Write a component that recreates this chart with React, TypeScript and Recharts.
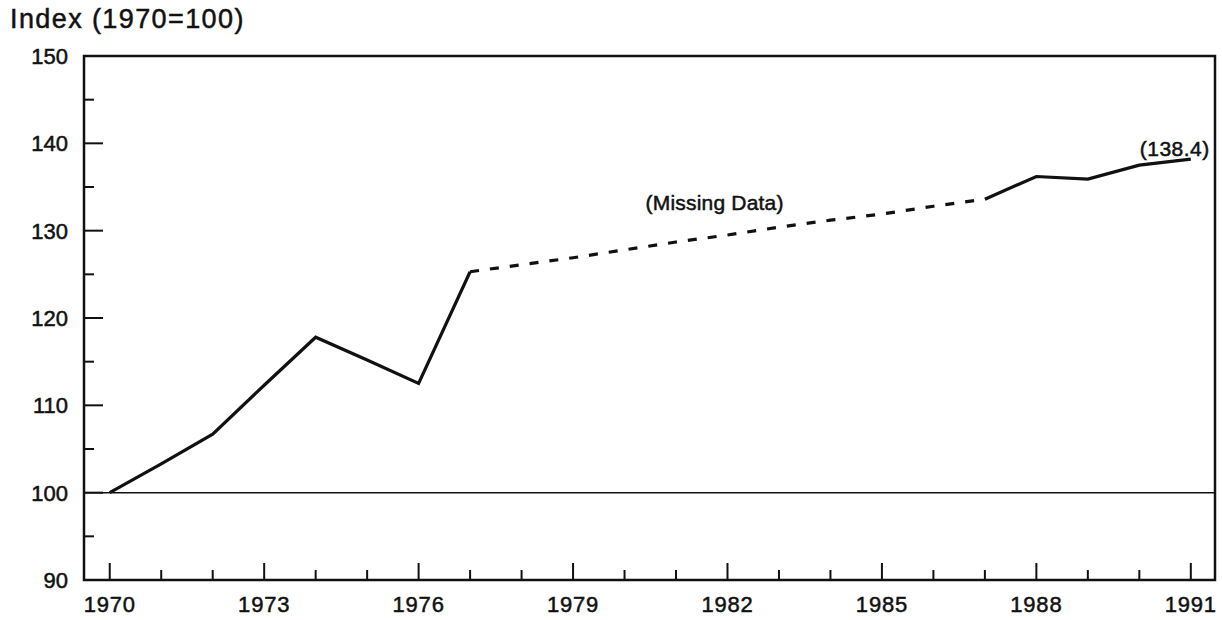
import React from 'react';
import { LineChart, Line, XAxis, YAxis, ReferenceLine, ReferenceArea, ReferenceDot } from 'recharts';

const years = [1970, 1971, 1972, 1973, 1974, 1975, 1976, 1977, 1978, 1979, 1980, 1981, 1982, 1983, 1984, 1985, 1986, 1987, 1988, 1989, 1990, 1991];
const indexValues = [100, 103.3, 106.7, 112.3, 117.8, 115.2, 112.5, 125.3, 126.1, 126.9, 127.8, 128.7, 129.5, 130.4, 131.2, 131.9, 132.8, 133.6, 136.2, 135.9, 137.5, 138.2];
const missingStart = 1977;
const missingEnd = 1987;
const yTicks = [90, 95, 100, 105, 110, 115, 120, 125, 130, 135, 140, 145, 150];
const yMajorStep = 10;
const xMajorStep = 3;
const titleText = 'Index (1970=100)';
const missingLabel = '(Missing Data)';
const missingLabelPos = { year: 1981.75, value: 132.4 };
const lastLabel = '(138.4)';

const X_MIN = 1969.5;
const X_MAX = 1991.47;
const FONT = '"Liberation Sans", Arial, Helvetica, sans-serif';
const INK = '#111';

const data = years.map((year, i) => {
  const v = indexValues[i];
  return {
    year,
    solid: year <= missingStart || year >= missingEnd ? v : null,
    dashed: year >= missingStart && year <= missingEnd ? v : null,
  };
});

const textStyle = { stroke: INK, strokeWidth: 0.5 };

const YTick = (props: any) => {
  const { x, y, payload } = props;
  const v = payload.value;
  const major = v % yMajorStep === 0;
  return (
    <g>
      <line x1={x} x2={x + (major ? 19 : 10)} y1={y} y2={y} stroke={INK} strokeWidth={2} />
      {major && (
        <text x={x - 16} y={y} dy="0.36em" textAnchor="end" fontFamily={FONT} fontSize={22} fill={INK} style={textStyle}>
          {v}
        </text>
      )}
    </g>
  );
};

const XTick = (props: any) => {
  const { x, y, payload } = props;
  const v = payload.value;
  const major = (v - years[0]) % xMajorStep === 0;
  return (
    <g>
      <line x1={x} x2={x} y1={y} y2={y - (major ? 17 : 10)} stroke={INK} strokeWidth={2} />
      {major && (
        <text x={x} y={y + 32} textAnchor="middle" fontFamily={FONT} fontSize={22} letterSpacing={0.8} fill={INK} style={textStyle}>
          {v}
        </text>
      )}
    </g>
  );
};

const MissingLabel = (props: any) => {
  const { viewBox } = props;
  return (
    <text x={viewBox.x} y={viewBox.y} textAnchor="middle" fontFamily={FONT} fontSize={21} letterSpacing={0.2} fill={INK} style={textStyle}>
      {missingLabel}
    </text>
  );
};

const LastLabel = (props: any) => {
  const { viewBox } = props;
  return (
    <text x={viewBox.x + 19} y={viewBox.y - 3} textAnchor="end" fontFamily={FONT} fontSize={21} letterSpacing={0.5} fill={INK} style={textStyle}>
      {lastLabel}
    </text>
  );
};

export default function App() {
  return (
    <div style={{ position: 'absolute', left: 0, top: 0, width: 1222, height: 620, background: '#fff' }}>
      <svg width={1222} height={620} style={{ position: 'absolute', left: 0, top: 0, pointerEvents: 'none' }}>
        <text x={10} y={28} fontFamily={FONT} fontSize={27} letterSpacing={1.4} fill={INK} style={textStyle}>
          {titleText}
        </text>
      </svg>
      <LineChart width={1222} height={620} data={data} margin={{ top: 56, right: 7, bottom: 0, left: 0 }}>
        <XAxis
          dataKey="year"
          type="number"
          domain={[X_MIN, X_MAX]}
          allowDataOverflow
          ticks={years}
          interval={0}
          tick={<XTick />}
          tickLine={false}
          axisLine={false}
          tickSize={0}
          tickMargin={0}
          height={40}
        />
        <YAxis
          type="number"
          domain={[90, 150]}
          allowDataOverflow
          ticks={yTicks}
          interval={0}
          tick={<YTick />}
          tickLine={false}
          axisLine={false}
          tickSize={0}
          tickMargin={0}
          width={84}
        />
        <ReferenceArea x1={X_MIN} x2={X_MAX} y1={90} y2={150} fill="none" stroke={INK} strokeWidth={2.5} ifOverflow="visible" />
        <ReferenceLine y={100} stroke={INK} strokeWidth={1.5} />
        <Line
          dataKey="solid"
          stroke={INK}
          strokeWidth={3.2}
          dot={false}
          activeDot={false}
          isAnimationActive={false}
          connectNulls={false}
          strokeLinejoin="miter"
        />
        <Line
          dataKey="dashed"
          stroke={INK}
          strokeWidth={3.2}
          strokeDasharray="9 11"
          dot={false}
          activeDot={false}
          isAnimationActive={false}
          connectNulls={false}
        />
        <ReferenceDot x={missingLabelPos.year} y={missingLabelPos.value} r={0} fill="none" stroke="none" label={<MissingLabel />} />
        <ReferenceDot x={years[years.length - 1]} y={indexValues[indexValues.length - 1]} r={0} fill="none" stroke="none" label={<LastLabel />} />
      </LineChart>
    </div>
  );
}
